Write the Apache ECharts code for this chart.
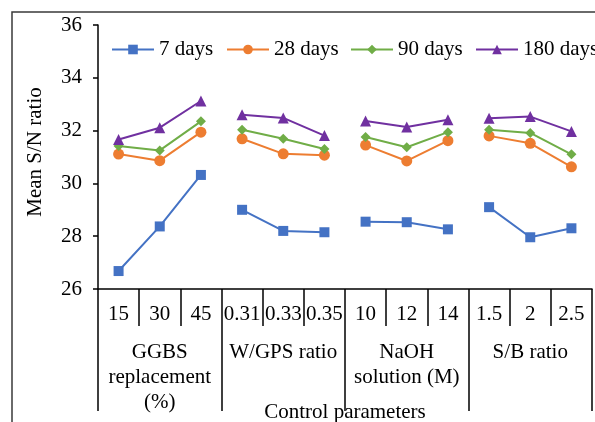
<!DOCTYPE html>
<html>
<head>
<meta charset="utf-8">
<script src="https://cdn.jsdelivr.net/npm/echarts@6/dist/echarts.min.js"></script>
<style>
  html, body { margin: 0; padding: 0; background: #fff; }
  #chart { width: 595px; height: 422px; }
</style>
</head>
<body>
<div id="chart"></div>
<script>
// Initialize
var chart = echarts.init(document.getElementById('chart'));

// data
var levels = ['15', '30', '45', '0.31', '0.33', '0.35', '10', '12', '14', '1.5', '2', '2.5'];
var groups = ['GGBS\nreplacement\n(%)', 'W/GPS ratio', 'NaOH\nsolution (M)', 'S/B ratio'];
var ages = ['7 days', '28 days', '90 days', '180 days'];
var days7 = [26.68, 28.37, 30.32, 29.00, 28.20, 28.15, 28.55, 28.53, 28.26, 29.10, 27.96, 28.30];
var days28 = [31.11, 30.86, 31.94, 31.69, 31.12, 31.07, 31.45, 30.85, 31.62, 31.80, 31.52, 30.63];
var days90 = [31.42, 31.25, 32.35, 32.03, 31.69, 31.30, 31.76, 31.37, 31.94, 32.03, 31.91, 31.10];
var days180 = [31.66, 32.11, 33.12, 32.60, 32.48, 31.81, 32.36, 32.14, 32.41, 32.47, 32.53, 31.97];

var colors = ['#4472C4', '#ED7D31', '#70AD47', '#7030A0'];
var symbols = ['rect', 'circle', 'diamond', 'triangle'];
var symbolSizes = [10, 11, 10, 11];
var legendLefts = [111, 226, 350, 475];
var font = 'Liberation Serif';
var fs = 21;

// one series per age and group so the lines break between groups
function buildSeries() {
    var values = [days7, days28, days90, days180];
    var out = [];
    for (var a = 0; a < ages.length; a++) {
        for (var g = 0; g < groups.length; g++) {
            var data = [];
            for (var i = 0; i < levels.length; i++) {
                data.push(Math.floor(i / 3) === g ? values[a][i] : '-');
            }
            out.push({
                name: ages[a],
                type: 'line',
                data: data,
                symbol: symbols[a],
                symbolSize: symbolSizes[a],
                lineStyle: { color: colors[a], width: 2 },
                itemStyle: { color: colors[a] },
                connectNulls: false
            });
        }
    }
    return out;
}

// one legend per entry, so nothing wraps
function buildLegends() {
    return ages.map(function (name, i) {
        return {
            data: [name],
            left: legendLefts[i],
            top: 39,
            padding: 0,
            itemWidth: 42,
            itemHeight: 12,
            textStyle: { fontFamily: font, fontSize: fs, color: '#000' }
        };
    });
}

var option = {
    animation: false,
    color: colors,
    textStyle: { fontFamily: font, color: '#000' },
    graphic: [{
        type: 'rect',
        shape: { x: 12, y: 12, width: 620, height: 440 },
        style: { fill: 'none', stroke: '#3a3a3a', lineWidth: 1.5 },
        silent: true
    }],
    legend: buildLegends(),
    grid: { left: 98, right: 3, top: 25, bottom: 133, outerBoundsMode: 'none' },
    xAxis: [{
        type: 'category',
        data: levels,
        position: 'bottom',
        axisLine: { lineStyle: { color: '#000', width: 1.5 } },
        axisTick: { show: true, length: 37, interval: 0, lineStyle: { color: '#000', width: 1.5 } },
        axisLabel: { interval: 0, margin: 15, fontFamily: font, fontSize: fs, color: '#000' }
    }, {
        type: 'category',
        data: groups,
        position: 'bottom',
        axisLine: { show: false },
        axisTick: { show: true, length: 122, interval: 0, lineStyle: { color: '#000', width: 1.5 } },
        axisLabel: { interval: 0, margin: 51, lineHeight: 25, fontFamily: font, fontSize: fs, color: '#000' },
        name: 'Control parameters',
        nameLocation: 'middle',
        nameGap: 113,
        nameMoveOverlap: false,
        nameTextStyle: { fontFamily: font, fontSize: fs, color: '#000' }
    }],
    yAxis: {
        type: 'value',
        min: 26,
        max: 36,
        interval: 2,
        name: 'Mean S/N ratio',
        nameLocation: 'middle',
        nameGap: 52,
        nameTextStyle: { fontFamily: font, fontSize: fs, color: '#000', padding: [0, 0, 0, 10] },
        axisLine: { show: true, lineStyle: { color: '#000', width: 1.5 } },
        axisTick: { show: true, length: 5, lineStyle: { color: '#000', width: 1.5 } },
        axisLabel: { margin: 16, fontFamily: font, fontSize: fs, color: '#000' },
        splitLine: { show: false }
    },
    series: buildSeries()
};

chart.setOption(option);
</script>
</body>
</html>
